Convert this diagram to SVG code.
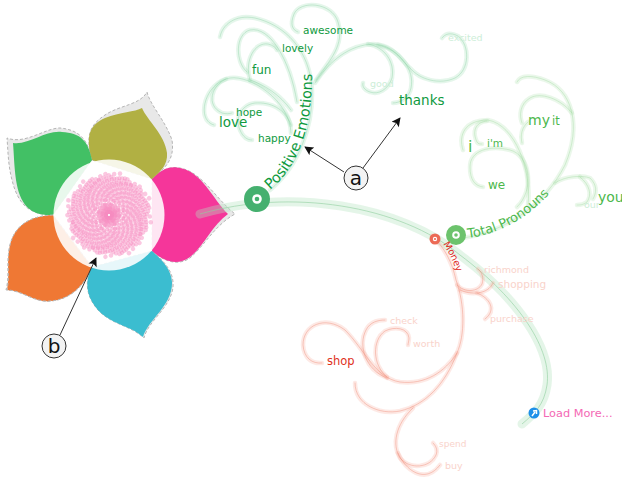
<svg xmlns="http://www.w3.org/2000/svg" xmlns:xlink="http://www.w3.org/1999/xlink" width="622" height="480" viewBox="0 0 622 480">
<style>
text{font-family:"DejaVu Sans","Noto Sans",sans-serif}
.bg{fill:#e8e8e8;stroke:#b5b5b5;stroke-width:1;stroke-dasharray:3 2}
.g1,.g2,.r1{fill:none;stroke-linecap:round}
.wg{stroke:#a9e0bc;stroke-opacity:.3;stroke-width:4.5}
.tg{stroke:#8ad3a2;stroke-opacity:.5;stroke-width:.8}
.wl{stroke:#b2e4b2;stroke-opacity:.28;stroke-width:4.5}
.tl{stroke:#98d898;stroke-opacity:.45;stroke-width:.8}
.wr{stroke:#f7a99b;stroke-opacity:.26;stroke-width:4.5}
.tr{stroke:#ee8b78;stroke-opacity:.55;stroke-width:.8}
.a{fill:#0f9a3e}
.b{fill:#4cb84c}
.pg{fill:#cdeed8}
.pr{fill:#f9d3cb}
.call{fill:#f3f3f3;stroke:#333;stroke-width:1}
.lab{font-size:20px;fill:#111;text-anchor:middle}
.arr{stroke:#333;stroke-width:1;fill:none;marker-end:url(#ah)}
</style>
<defs>
<marker id="ah" viewBox="0 0 10 10" refX="9" refY="5" markerWidth="11" markerHeight="9" orient="auto" markerUnits="userSpaceOnUse"><path d="M0 0L10 5L0 10L2 5Z" fill="#111"/></marker>
<g id="arm" fill="#f68cc0" fill-opacity=".48">
<circle cx="3.5" cy=".1" r="2.3"/><circle cx="7.5" cy=".4" r="2.3"/><circle cx="11.36" cy="1.53" r="2.3"/><circle cx="15.62" cy="4.29" r="2.3"/><circle cx="18.27" cy="7.76" r="2.3"/><circle cx="19.71" cy="11.69" r="2.3"/><circle cx="20.1" cy="15.9" r="2.3"/><circle cx="19.49" cy="20.2" r="2.3"/><circle cx="17.95" cy="24.43" r="2.3"/><circle cx="15.54" cy="28.44" r="2.3"/><circle cx="12.3" cy="32.1" r="2.3"/><circle cx="8.34" cy="35.27" r="2.3"/><circle cx="3.73" cy="37.82" r="2.3"/><circle cx="-1.41" cy="39.67" r="2.3"/><circle cx="-6.97" cy="40.73" r="2.3"/><circle cx="-12.81" cy="40.92" r="2.3"/>
</g>
<g id="seeds">
<use xlink:href="#arm" href="#arm" transform="rotate(0)"/>
<use xlink:href="#arm" href="#arm" transform="rotate(137.5) scale(1.005)"/>
<use xlink:href="#arm" href="#arm" transform="rotate(275) scale(1.01)"/>
<use xlink:href="#arm" href="#arm" transform="rotate(52.5) scale(1.015)"/>
<use xlink:href="#arm" href="#arm" transform="rotate(190) scale(1.02)"/>
<use xlink:href="#arm" href="#arm" transform="rotate(327.5) scale(1.025)"/>
<use xlink:href="#arm" href="#arm" transform="rotate(105) scale(1.03)"/>
<use xlink:href="#arm" href="#arm" transform="rotate(242.5) scale(1.035)"/>
<use xlink:href="#arm" href="#arm" transform="rotate(20) scale(1.04)"/>
<use xlink:href="#arm" href="#arm" transform="rotate(157.5) scale(1.045)"/>
<use xlink:href="#arm" href="#arm" transform="rotate(295) scale(1.05)"/>
<use xlink:href="#arm" href="#arm" transform="rotate(72.5) scale(1.055)"/>
<use xlink:href="#arm" href="#arm" transform="rotate(210) scale(1.06)"/>
<use xlink:href="#arm" href="#arm" transform="rotate(347.5) scale(1.065)"/>
<use xlink:href="#arm" href="#arm" transform="rotate(125) scale(1.07)"/>
<use xlink:href="#arm" href="#arm" transform="rotate(262.5) scale(1.075)"/>
<use xlink:href="#arm" href="#arm" transform="rotate(40) scale(1.08)"/>
<use xlink:href="#arm" href="#arm" transform="rotate(177.5) scale(1.085)"/>
<use xlink:href="#arm" href="#arm" transform="rotate(315) scale(1.09)"/>
<use xlink:href="#arm" href="#arm" transform="rotate(92.5) scale(1.095)"/>
<use xlink:href="#arm" href="#arm" transform="rotate(230) scale(1.1)"/>
</g>
<path id="pe" d="M270 190C300 165 313 125 312 70"/>
<path id="tp" d="M468 238C500 234 530 218 556 186"/>
<path id="mo" d="M443 244C449 253 453 261 457 273"/>
</defs>

<g id="flower">
<path class="bg" d="M152 179C160 170 170 166 180 168C202 172 215 198 235 214C215 225 205 245 190 258C175 268 160 258 152 251Z"/>
<path class="bg" d="M92 160C85 135 90 125 105 115C120 105 140 105 147 92C150 105 165 120 172 140C175 160 165 168 152 179Z"/>
<path class="bg" d="M53 215C30 215 18 205 12 180C8 165 8 150 7 138C25 145 45 128 60 128C80 130 88 140 92 160Z"/>
<path class="bg" d="M53 215C30 216 15 225 10 245C6 262 10 275 6 290C22 290 35 303 50 301C70 300 85 285 92 267Z"/>
<path class="bg" d="M92 267C85 280 85 295 98 310C112 325 130 325 144 338C148 320 175 305 173 282C172 268 160 258 152 251Z"/>
<path fill="#f5369a" d="M152 179C160 170 170 165 180 168C202 172 212 198 228 214C212 225 205 245 190 257C175 268 160 258 152 251Z"/>
<path fill="#b1b043" d="M92 160C85 135 90 125 105 118C120 112 135 112 142 108C147 120 165 135 167 153C168 165 160 172 152 179Z"/>
<path fill="#42c065" d="M53 215C30 216 20 205 16 180C14 165 14 155 13 143C30 145 45 130 62 132C80 133 88 140 92 160Z"/>
<path fill="#ef7834" stroke="#bbb" stroke-dasharray="3 2" d="M53 215C30 216 15 225 10 245C6 262 10 275 7 290C22 290 35 303 50 301C70 300 85 285 92 267Z"/>
<path fill="#3bbdd0" d="M92 267C85 280 85 295 98 310C112 325 130 325 143 337C148 320 173 305 172 282C171 268 160 258 152 251Z"/>
<circle cx="109" cy="215" r="55.500" fill="#fff" fill-opacity=".88"/>
<g transform="translate(109 215) scale(.92)">
<use xlink:href="#seeds" href="#seeds"/>
<use xlink:href="#seeds" href="#seeds" transform="rotate(8.6) scale(.93)"/>
</g>
</g>

<g id="connectors">
<path fill="none" stroke="#b4e3be" stroke-opacity=".36" stroke-width="9" stroke-linecap="round" d="M200 214C290 188 400 205 460 255C520 300 552 350 547 385C544 405 535 413 522 424"/>
<path fill="none" stroke="#8fcf9f" stroke-opacity=".6" stroke-width="1" d="M200 214C290 188 400 205 460 255C520 300 552 350 547 385C544 405 535 413 522 424"/>
<g class="g1 wg">
<path d="M270 190C300 165 313 125 312 90C310 50 285 25 255 18C235 14 222 25 220 37"/>
<path d="M316 80C330 60 345 45 338 22C332 2 300 0 294 14C290 24 292 30 298 32"/>
<path d="M315 83C330 60 350 45 373 44C395 45 400 60 410 68C420 80 440 85 455 78C470 70 470 45 458 36C450 32 445 34 442 38"/>
<path d="M368 44C385 47 395 62 392 78C388 90 378 95 370 92C364 90 362 86 363 83"/>
<path d="M378 45C400 50 415 70 411 88C409 98 400 103 393 103"/>
<path d="M297 102C290 60 270 26 250 30C235 34 235 62 247 72"/>
<path d="M250 80C244 60 255 42 268 44C273 45 276 48 277 50"/>
<path d="M291 133C290 100 250 75 230 78C205 82 195 120 214 125"/>
<path d="M226 79C212 85 205 105 222 113C226 114 229 114 232 113"/>
<path d="M291 125C285 108 270 102 255 103C240 105 235 120 240 130C243 137 247 140 252 140"/>
<path d="M291 110C280 95 265 85 250 80"/>
</g>
<g class="g2 tg">
<path d="M270 190C300 165 313 125 312 90C310 50 285 25 255 18C235 14 222 25 220 37"/>
<path d="M316 80C330 60 345 45 338 22C332 2 300 0 294 14C290 24 292 30 298 32"/>
<path d="M315 83C330 60 350 45 373 44C395 45 400 60 410 68C420 80 440 85 455 78C470 70 470 45 458 36C450 32 445 34 442 38"/>
<path d="M368 44C385 47 395 62 392 78C388 90 378 95 370 92C364 90 362 86 363 83"/>
<path d="M378 45C400 50 415 70 411 88C409 98 400 103 393 103"/>
<path d="M297 102C290 60 270 26 250 30C235 34 235 62 247 72"/>
<path d="M250 80C244 60 255 42 268 44C273 45 276 48 277 50"/>
<path d="M291 133C290 100 250 75 230 78C205 82 195 120 214 125"/>
<path d="M226 79C212 85 205 105 222 113C226 114 229 114 232 113"/>
<path d="M291 125C285 108 270 102 255 103C240 105 235 120 240 130C243 137 247 140 252 140"/>
<path d="M291 110C280 95 265 85 250 80"/>
</g>
<g class="g1 wl">
<path d="M463 238C505 232 545 205 565 165C582 125 572 90 545 80C532 75 520 75 517 82"/>
<path d="M572 113C560 98 540 92 530 98C520 104 519 115 522 123"/>
<path d="M522 143C520 135 522 127 528 122"/>
<path d="M528 205C532 170 515 125 488 120C465 120 458 135 463 150"/>
<path d="M487 121C475 122 472 132 477 142C478 144 480 144 482 144"/>
<path d="M517 207C535 190 530 155 510 150C490 145 470 150 470 167C470 180 475 186 483 187"/>
<path d="M555 183C565 176 582 175 590 178C597 185 597 192 593 199"/>
<path d="M580 177C590 185 592 195 587 202C583 205 580 205 577 205"/>
</g>
<g class="g2 tl">
<path d="M463 238C505 232 545 205 565 165C582 125 572 90 545 80C532 75 520 75 517 82"/>
<path d="M572 113C560 98 540 92 530 98C520 104 519 115 522 123"/>
<path d="M522 143C520 135 522 127 528 122"/>
<path d="M528 205C532 170 515 125 488 120C465 120 458 135 463 150"/>
<path d="M487 121C475 122 472 132 477 142C478 144 480 144 482 144"/>
<path d="M517 207C535 190 530 155 510 150C490 145 470 150 470 167C470 180 475 186 483 187"/>
<path d="M555 183C565 176 582 175 590 178C597 185 597 192 593 199"/>
<path d="M580 177C590 185 592 195 587 202C583 205 580 205 577 205"/>
</g>
<g class="r1 wr">
<path d="M432 236C445 248 452 262 456 280C465 305 465 335 457 353C445 372 425 385 400 382C375 378 365 350 345 330C325 315 303 325 303 345C304 358 312 364 322 363"/>
<path d="M387 378C365 370 358 345 366 330C370 322 378 320 385 320"/>
<path d="M387 377C372 365 372 340 385 331C395 326 408 328 409 338C409 341 408 343 408 345"/>
<path d="M457 353C445 385 425 405 400 411C380 415 355 405 355 383"/>
<path d="M413 408C395 425 392 445 400 458C410 470 430 468 436 455C438 450 436 446 433 443"/>
<path d="M398 453C405 470 425 485 440 465"/>
<path d="M457 285C465 293 478 292 482 284C484 278 482 272 478 269"/>
<path d="M460 290C470 295 488 295 493 283"/>
<path d="M477 293C490 298 497 310 485 319"/>
</g>
<g class="r1 tr">
<path d="M432 236C445 248 452 262 456 280C465 305 465 335 457 353C445 372 425 385 400 382C375 378 365 350 345 330C325 315 303 325 303 345C304 358 312 364 322 363"/>
<path d="M387 378C365 370 358 345 366 330C370 322 378 320 385 320"/>
<path d="M387 377C372 365 372 340 385 331C395 326 408 328 409 338C409 341 408 343 408 345"/>
<path d="M457 353C445 385 425 405 400 411C380 415 355 405 355 383"/>
<path d="M413 408C395 425 392 445 400 458C410 470 430 468 436 455C438 450 436 446 433 443"/>
<path d="M398 453C405 470 425 485 440 465"/>
<path d="M457 285C465 293 478 292 482 284C484 278 482 272 478 269"/>
<path d="M460 290C470 295 488 295 493 283"/>
<path d="M477 293C490 298 497 310 485 319"/>
</g>
<path class="arr" d="M344 172L305 147"/>
<path class="arr" d="M363 168L400 118"/>
<path class="arr" d="M60 335L96 258"/>
</g>

<g id="node-positive">
<circle cx="257" cy="199" r="13" fill="#45b06f"/><circle cx="257" cy="199" r="4.800" fill="#fff"/><circle cx="257" cy="199" r="2.300" fill="#45b06f"/>
<text font-size="14.500" class="a"><textPath href="#pe" xlink:href="#pe">Positive Emotions</textPath></text>
</g>
<g id="node-total">
<circle cx="456" cy="235" r="10" fill="#6cc36c"/><circle cx="456" cy="235" r="3.800" fill="#fff"/><circle cx="456" cy="235" r="1.800" fill="#6cc36c"/>
<text font-size="13" class="b"><textPath href="#tp" xlink:href="#tp">Total Pronouns</textPath></text>
</g>
<g id="node-money">
<circle cx="435" cy="239" r="5.500" fill="#ec6a55"/><circle cx="435" cy="239" r="2.200" fill="#fff"/><circle cx="435" cy="239" r="1.100" fill="#ec6a55"/>
<text font-size="9.500" fill="#e0281c"><textPath href="#mo" xlink:href="#mo">Money</textPath></text>
</g>
<g id="words-positive">
<text class="a" x="303" y="34" font-size="10.500">awesome</text>
<text class="a" x="282" y="52" font-size="10.500">lovely</text>
<text class="a" x="252" y="74" font-size="12">fun</text>
<text class="a" x="236" y="116" font-size="10.500">hope</text>
<text class="a" x="219" y="127" font-size="13.500">love</text>
<text class="a" x="258" y="142" font-size="10.500">happy</text>
<text class="a" x="399" y="105" font-size="13.500">thanks</text>
<text class="pg" x="370" y="87" font-size="9.500">good</text>
<text class="pg" x="448" y="41" font-size="9.500">excited</text>
</g>
<g id="words-total">
<text class="b" x="468" y="152" font-size="16">i</text>
<text class="b" x="487" y="147" font-size="10.500">i'm</text>
<text class="b" x="528" y="125" font-size="14">my</text>
<text class="b" x="552" y="125" font-size="11.500">it</text>
<text class="b" x="488" y="189" font-size="12">we</text>
<text class="b" x="598" y="202" font-size="14">you</text>
<text class="pg" x="584" y="208" font-size="9.500">our</text>
</g>
<g id="words-money">
<text class="pr" x="484" y="273" font-size="9.500">richmond</text>
<text class="pr" x="498" y="288" font-size="10.500">shopping</text>
<text class="pr" x="490" y="322" font-size="9.500">purchase</text>
<text class="pr" x="390" y="324" font-size="9.500">check</text>
<text class="pr" x="413" y="347" font-size="9.500">worth</text>
<text x="327" y="365" font-size="11.500" fill="#e0301c">shop</text>
<text class="pr" x="439" y="447" font-size="9">spend</text>
<text class="pr" x="445" y="469" font-size="9.500">buy</text>
</g>
<g id="load-more">
<circle cx="534" cy="413" r="5.500" fill="#1e90e8"/><path d="M532 416L535 412M533 411L536.500 410.500L536.500 414" stroke="#fff" stroke-width="1.500" fill="none"/>
<text x="543" y="417" font-size="11.300" fill="#f468b4">Load More...</text>
</g>
<g id="callout-a"><circle class="call" cx="356" cy="178" r="12"/><text class="lab" x="356" y="185">a</text></g>
<g id="callout-b"><circle class="call" cx="54" cy="346" r="12"/><text class="lab" x="54" y="353">b</text></g>
</svg>
